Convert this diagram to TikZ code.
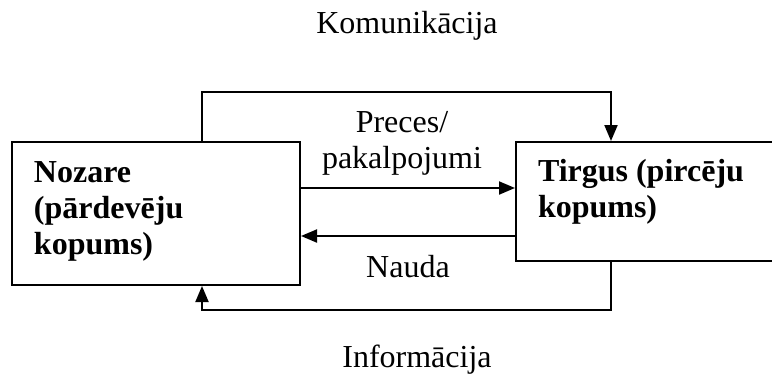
\documentclass[tikz,border=0pt]{standalone}
\usepackage{fontspec}
\setmainfont{Liberation Serif}
\usetikzlibrary{arrows.meta, positioning, calc}

\begin{document}
\begin{tikzpicture}[
    x=1pt, y=-1pt,
    >={Triangle[length=16pt, width=13pt]},
    line width=2pt,
    box/.style={draw, rectangle, line width=2pt, inner sep=0pt, anchor=north west},
    boxtext/.style={font=\fontsize{32}{36}\selectfont\bfseries, align=left, inner sep=0pt, anchor=north west},
    lbl/.style={font=\fontsize{32}{36}\selectfont, align=center, inner sep=0pt},
]
    \useasboundingbox (0,0) rectangle (772,376);
    \clip (0,0) rectangle (772,376);
    % boxes
    \node[box, minimum width=288pt, minimum height=143pt] (nozare) at (11,141) {};
    \node[box, minimum width=270pt, minimum height=119pt] (tirgus) at (515,141) {};
    \node[boxtext] (nozaretxt) at ($(nozare.north west)+(22,20)$) {Nozare\\(pārdevēju\\kopums)};
    \node[boxtext] (tirgustxt) at ($(tirgus.north west)+(22,17)$) {Tirgus (pircēju\\kopums)};
    % flows between the boxes
    \coordinate (precesA) at ($(nozare.north east)+(0,47)$);
    \coordinate (precesB) at ($(tirgus.north west)+(0,47)$);
    \coordinate (naudaA) at ($(tirgus.north west)+(0,95)$);
    \coordinate (naudaB) at ($(nozare.north east)+(0,95)$);
    \draw[->] (precesA) -- (precesB);
    \draw[->] (naudaA) -- (naudaB);
    \node[lbl, above=12pt of $(precesA)!0.5!(precesB)$, xshift=-6pt] (preces) {Preces/\\pakalpojumi};
    \node[lbl, below=18pt of $(naudaA)!0.5!(naudaB)$] (nauda) {Nauda};
    % outer loops
    \draw[->] ($(nozare.north west)+(191,0)$) |- ($(tirgus.north west)+(96,-49)$) -- ($(tirgus.north west)+(96,0)$);
    \draw[->] ($(tirgus.south west)+(96,0)$) |- ($(nozare.south west)+(191,24)$) -- ($(nozare.south west)+(191,0)$);
    \node[lbl, anchor=base] (komunikacija) at (407,33) {Komunikācija};
    \node[lbl, anchor=base] (informacija) at (417,367) {Informācija};
\end{tikzpicture}
\end{document}
